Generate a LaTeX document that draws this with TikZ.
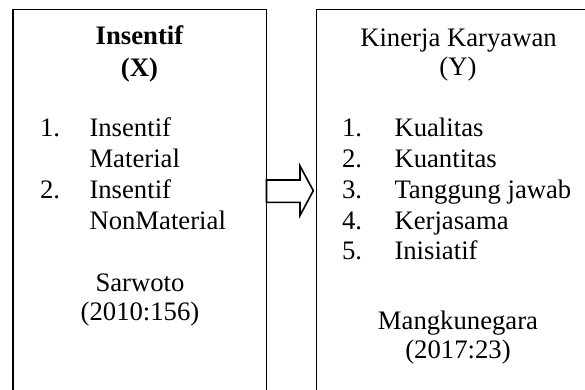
\documentclass[tikz,border=0pt]{standalone}
\usepackage{fontspec}
\setmainfont{Liberation Serif}
\begin{document}
\begin{tikzpicture}[x=1pt,y=-1pt,
  boxstyle/.style={draw, line width=1.7pt, inner sep=0, outer sep=0, anchor=north west},
  txt/.style={inner sep=0, outer sep=0, anchor=base, font=\fontsize{26.7pt}{32pt}\selectfont},
  txtl/.style={txt, anchor=base west},
  bold/.style={txt, font=\fontsize{26.7pt}{32pt}\selectfont\bfseries},
  arrowline/.style={draw, line width=1.6pt, line join=miter, fill=white}]
\clip (0,0) rectangle (585,390);
\fill[white] (0,0) rectangle (585,390);
% boxes
\node[boxstyle, minimum width=253.5pt, minimum height=420pt] (xbox) at (13,9.5) {};
\node[boxstyle, minimum width=300pt, minimum height=420pt] (ybox) at (316.5,9.5) {};
% block arrow
\draw[arrowline] (xbox.east |- 0,180) -- (300,180) -- (300,166) -- (313.3,190.7)
  -- (300,215.5) -- (300,202.3) -- (xbox.east |- 0,202.3) -- cycle;
% left box text
\node[bold] (xt1) at (139.5,45) {Insentif};
\node[bold] (xt2) at (139.5,77) {(X)};
\node[txtl] (xn1) at (40,137) {1.};
\node[txtl] (xi1) at (89.5,137) {Insentif};
\node[txtl] (xi1b) at (89.5,167.5) {Material};
\node[txtl] (xn2) at (40,198) {2.};
\node[txtl] (xi2) at (89.5,198) {Insentif};
\node[txtl] (xi2b) at (89.5,229) {NonMaterial};
\node[txt] (xs1) at (140,291) {Sarwoto};
\node[txt] (xs2) at (140,320) {(2010:156)};
% right box text
\node[txt] (yt1) at (458.5,46.5) {Kinerja Karyawan};
\node[txt] (yt2) at (458,76) {(Y)};
\node[txtl] (yn1) at (342,137) {1.};
\node[txtl] (yi1) at (394.5,137) {Kualitas};
\node[txtl] (yn2) at (342,167.5) {2.};
\node[txtl] (yi2) at (394.5,167.5) {Kuantitas};
\node[txtl] (yn3) at (342,198) {3.};
\node[txtl] (yi3) at (394.5,198) {Tanggung jawab};
\node[txtl] (yn4) at (342,229) {4.};
\node[txtl] (yi4) at (394.5,229) {Kerjasama};
\node[txtl] (yn5) at (342,259.5) {5.};
\node[txtl] (yi5) at (394.5,259.5) {Inisiatif};
\node[txt] (ys1) at (458,329) {Mangkunegara};
\node[txt] (ys2) at (458,358) {(2017:23)};
\end{tikzpicture}
\end{document}
